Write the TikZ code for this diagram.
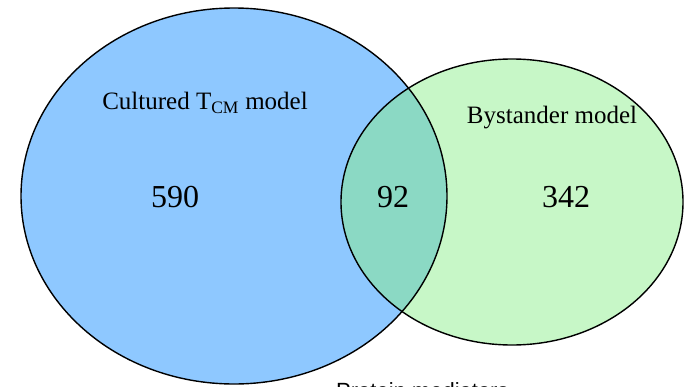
\documentclass[tikz,border=0pt]{standalone}
\usepackage{fontspec}
\setmainfont{Liberation Serif}
\newfontfamily\sansfont{Liberation Sans}
\definecolor{bleuT}{HTML}{8EC8FF}
\definecolor{vertB}{HTML}{C7F7C7}
\definecolor{mixte}{HTML}{8BD9C4}
\tikzset{
    etiquette/.style={inner sep=0pt, font=\fontsize{25}{28}\selectfont},
    nombre/.style={inner sep=0pt, font=\fontsize{32}{36}\selectfont},
    contour/.style={draw=black, line width=1.4pt}
}
\begin{document}
\begin{tikzpicture}[x=1pt,y=-1pt]
    % Cadre de l'image
    \useasboundingbox (0,0) rectangle (686,386);

    % Dimensions des ellipses
    \pgfmathsetmacro{\bx}{234}
    \pgfmathsetmacro{\by}{196}
    \pgfmathsetmacro{\brx}{213}
    \pgfmathsetmacro{\bry}{188}
    \pgfmathsetmacro{\gx}{512}
    \pgfmathsetmacro{\gy}{202}
    \pgfmathsetmacro{\grx}{171}
    \pgfmathsetmacro{\gry}{143}

    % Remplir les deux ensembles
    \fill[bleuT] (\bx,\by) ellipse [x radius=\brx, y radius=\bry];
    \fill[vertB] (\gx,\gy) ellipse [x radius=\grx, y radius=\gry];

    % Remplir l'intersection
    \begin{scope}
        \clip (\bx,\by) ellipse [x radius=\brx, y radius=\bry];
        \fill[mixte] (\gx,\gy) ellipse [x radius=\grx, y radius=\gry];
    \end{scope}

    % Dessiner les contours
    \draw[contour] (\bx,\by) ellipse [x radius=\brx, y radius=\bry];
    \draw[contour] (\gx,\gy) ellipse [x radius=\grx, y radius=\gry];

    % Titres et nombres
    \node[etiquette] (cultures) at (205,103) {Cultured T\textsubscript{CM} model};
    \node[etiquette] (bystander) at (552,118) {Bystander model};
    \node[nombre] (n590) at (175,197) {590};
    \node[nombre] (n92) at (393,197) {92};
    \node[nombre] (n342) at (566,197) {342};

    % Texte coupe en bas
    \node[inner sep=0pt, anchor=north west, font=\sansfont\fontsize{22}{26}\selectfont]
        (proteines) at (336,382) {Protein mediators};
\end{tikzpicture}
\end{document}
